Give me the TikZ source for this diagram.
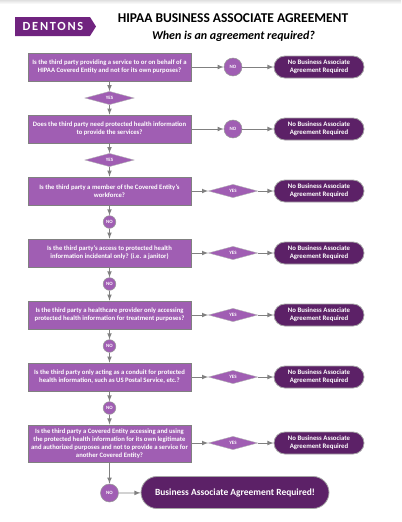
\documentclass[tikz,border=0pt]{standalone}
\usepackage{fontspec}
\setmainfont{Carlito}
\usetikzlibrary{shapes.geometric}
\definecolor{boxpurple}{HTML}{A05EB3}
\definecolor{darkpurple}{HTML}{5C2167}
\definecolor{logopurple}{HTML}{70237F}
\definecolor{linegrey}{HTML}{808080}
\tikzset{
  question/.style={draw=linegrey,line width=0.5pt,fill=boxpurple,text=white,font=\fontsize{5}{6}\selectfont\bfseries,
    minimum width=122pt,minimum height=21pt,inner sep=0pt,align=center},
  stopbox/.style={draw=linegrey!70,line width=0.6pt,fill=darkpurple,text=white,font=\fontsize{5.1}{6}\selectfont\bfseries,
    rounded corners=8.2pt,minimum width=67.5pt,minimum height=16.5pt,inner sep=0pt,align=center},
  yesdiamond/.style={diamond,aspect=3.7,fill=boxpurple,draw=linegrey!60,line width=0.3pt,text=white,
    font=\fontsize{3.7}{4}\selectfont\bfseries,minimum width=37pt,minimum height=10pt,inner sep=0pt},
  nocircle/.style={circle,fill=boxpurple,draw=linegrey!80,line width=0.4pt,text=white,
    font=\fontsize{3.7}{4}\selectfont\bfseries,minimum size=#1,inner sep=0pt},
  conn/.style={draw=linegrey,line width=0.6pt,-latex}
}
\begin{document}
\begin{tikzpicture}[x=0.75pt,y=-0.75pt]
  \useasboundingbox (0,0) rectangle (401,522);
  \fill[top color=black!12,bottom color=white] (0,0) rectangle (401,4);
  % logo and title
  \fill[logopurple] (15,17) -- (90,17) -- (96,26.5) -- (90,36) -- (15,36) -- cycle;
  \node[text=white,font=\fontsize{9.3}{9}\selectfont\bfseries\addfontfeature{LetterSpace=14}] (logo) at (53,26.5) {DENTONS};
  \node[font=\fontsize{10.1}{12}\selectfont\bfseries] (title) at (233,18.5) {HIPAA BUSINESS ASSOCIATE AGREEMENT};
  \node[font=\fontsize{9}{11}\selectfont\bfseries\itshape] (subtitle) at (233.5,36) {When is an agreement required?};
  % questions
  \node[question] (q1) at (109.5,67) {Is the third party providing a service to or on behalf of a\\HIPAA Covered Entity and not for its own purposes?};
  \node[question] (q2) at (109.5,129) {Does the third party need protected health information\\to provide the services?};
  \node[question] (q3) at (109.5,191) {Is the third party a member of the Covered Entity's\\workforce?};
  \node[question] (q4) at (109.5,253) {Is the third party's access to protected health\\information incidental only? (i.e. a janitor)};
  \node[question] (q5) at (109.5,315) {Is the third party a healthcare provider only accessing\\protected health information for treatment purposes?};
  \node[question] (q6) at (109.5,377) {Is the third party only acting as a conduit for protected\\health information, such as US Postal Service, etc.?};
  \node[question,minimum height=28pt] (q7) at (109.5,443.5) {Is the third party a Covered Entity accessing and using\\the protected health information for its own legitimate\\and authorized purposes and not to provide a service for\\another Covered Entity?};
  % right hand side
  \foreach \i/\y in {1/67,2/129,3/191,4/253,5/315,6/377,7/443}{
    \node[stopbox] (stop\i) at (319,\y) {No Business Associate\\Agreement Required};}
  \foreach \i/\y in {1/67,2/129}{
    \node[nocircle=13.5pt] (right\i) at (233,\y) {NO};
    \draw[conn] (q\i.east |- right\i) -- (right\i);
    \draw[conn] (right\i) -- (stop\i);}
  \foreach \i/\y in {3/191,4/253,5/315,6/377,7/443}{
    \node[yesdiamond] (right\i) at (233,\y) {YES};
    \draw[conn] (q\i.east |- right\i) -- (right\i);
    \draw[conn] (right\i) -- (stop\i);}
  % down the left hand side
  \foreach \i/\j/\y in {1/2/98,2/3/160}{
    \node[yesdiamond] (down\i) at (109.5,\y) {YES};
    \draw[conn] (q\i) -- (down\i);
    \draw[conn] (down\i) -- (q\j);}
  \foreach \i/\j/\y in {3/4/222,4/5/284,5/6/346,6/7/408}{
    \node[nocircle=9.5pt] (down\i) at (109.5,\y) {NO};
    \draw[conn] (q\i) -- (down\i);
    \draw[conn] (down\i) -- (q\j);}
  % last step
  \node[nocircle=13.5pt] (down7) at (109.5,493) {NO};
  \node[stopbox,rounded corners=12pt,minimum width=141pt,minimum height=24pt,font=\fontsize{7.1}{9}\selectfont\bfseries] (final) at (235,492.5) {Business Associate Agreement Required!};
  \draw[conn] (q7) -- (down7);
  \draw[conn] (down7) -- (final);
\end{tikzpicture}
\end{document}
